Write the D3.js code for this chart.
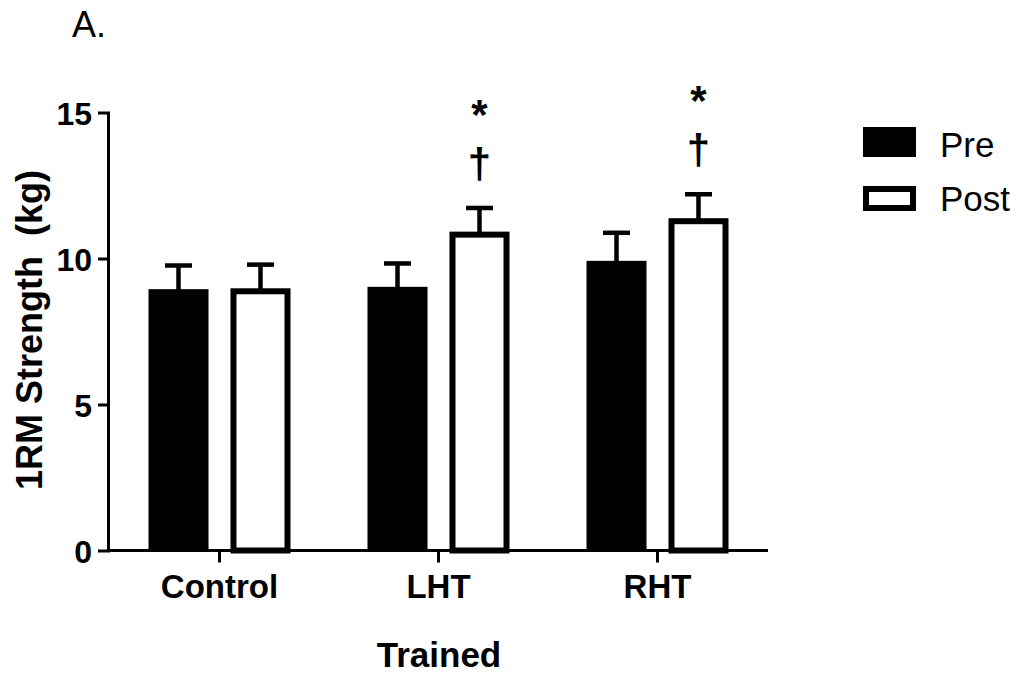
<!DOCTYPE html>
<html>
<head>
<meta charset="utf-8">
<script src="https://cdn.jsdelivr.net/npm/d3@7/dist/d3.min.js"></script>
<style>
  body { margin: 0; background: #fff; }
  text { font-family: "Liberation Sans", Arial, sans-serif; fill: #000; }
</style>
</head>
<body>
<div id="chart"></div>
<script>
(function() {

  // data
  var groups = ['Control', 'LHT', 'RHT']
  var phases = ['Pre', 'Post']
  var preMeans = [8.95, 9.03, 9.92]
  var preErrors = [0.81, 0.80, 0.96]
  var postMeans = [8.98, 10.92, 11.38]
  var postErrors = [0.81, 0.81, 0.82]
  var postMarks = ['', '*', '*']
  var postDaggers = ['', '\u2020', '\u2020']
  var yTicks = [0, 5, 10, 15]

  var width = 1019, height = 678

  var svg = d3.select("#chart")
    .append("svg")
    .attr("width", width)
    .attr("height", height)

  var yScale = d3.scaleLinear()
    .domain([0, 15])
    .range([550.5, 112.5])

  var xScale = d3.scaleBand()
    .domain(groups)
    .range([110, 767])

  var phaseScale = d3.scaleBand()
    .domain(phases)
    .range([-71, 71])
    .paddingInner(0.268)

  var bars = []
  groups.forEach(function(g, i) {
    bars.push({ group: g, phase: 'Pre', mean: preMeans[i], err: preErrors[i], mark: '', dagger: '' })
    bars.push({ group: g, phase: 'Post', mean: postMeans[i], err: postErrors[i], mark: postMarks[i], dagger: postDaggers[i] })
  })

  function barLeft(d) {
    return xScale(d.group) + xScale.bandwidth() / 2 + phaseScale(d.phase)
  }
  function barCenter(d) {
    return barLeft(d) + phaseScale.bandwidth() / 2
  }

  // error bars (behind bars)
  var err = svg.selectAll(".err")
    .data(bars)
    .enter().append("g")
    .attr("class", "err")

  err.append("line")
    .attr("x1", barCenter)
    .attr("x2", barCenter)
    .attr("y1", function(d) { return yScale(d.mean) + 2 })
    .attr("y2", function(d) { return yScale(d.mean + d.err) })
    .attr("stroke", "#000")
    .attr("stroke-width", 4.5)

  err.append("line")
    .attr("x1", function(d) { return barCenter(d) - 13.5 })
    .attr("x2", function(d) { return barCenter(d) + 13.5 })
    .attr("y1", function(d) { return yScale(d.mean + d.err) })
    .attr("y2", function(d) { return yScale(d.mean + d.err) })
    .attr("stroke", "#000")
    .attr("stroke-width", 4.5)

  var sw = 6
  svg.selectAll(".bar")
    .data(bars)
    .enter().append("rect")
    .attr("class", "bar")
    .attr("x", function(d) { return d.phase == 'Pre' ? barLeft(d) : barLeft(d) + sw / 2 })
    .attr("width", function(d) { return d.phase == 'Pre' ? phaseScale.bandwidth() : phaseScale.bandwidth() - sw })
    .attr("y", function(d) { return d.phase == 'Pre' ? yScale(d.mean) : yScale(d.mean) + sw / 2 })
    .attr("height", function(d) { return yScale(0) - yScale(d.mean) - (d.phase == 'Pre' ? 0 : sw / 2) })
    .attr("fill", function(d) { return d.phase == 'Pre' ? '#000' : '#fff' })
    .attr("stroke", function(d) { return d.phase == 'Pre' ? 'none' : '#000' })
    .attr("stroke-width", sw)

  // significance marks
  var marked = bars.filter(function(d) { return d.dagger })
  svg.selectAll(".dagger")
    .data(marked)
    .enter().append("text")
    .attr("class", "dagger")
    .attr("x", barCenter)
    .attr("y", function(d) { return yScale(d.mean + d.err) - 30 })
    .attr("text-anchor", "middle")
    .attr("font-size", "42px")
    .attr("font-weight", "bold")
    .text(function(d) { return d.dagger })

  svg.selectAll(".star")
    .data(marked)
    .enter().append("text")
    .attr("class", "star")
    .attr("x", barCenter)
    .attr("y", function(d) { return yScale(d.mean + d.err) - 79 })
    .attr("text-anchor", "middle")
    .attr("font-size", "42px")
    .attr("font-weight", "bold")
    .text(function(d) { return d.mark })

  // axes
  var yAxis = svg.append("g")
    .attr("transform", "translate(110,0)")
    .call(d3.axisLeft(yScale).tickValues(yTicks).tickSize(12).tickPadding(6))
  yAxis.select(".domain")
    .attr("d", "M-1.5," + yScale(15) + "V" + yScale(0))
  yAxis.selectAll("line, path")
    .attr("stroke", "#000")
    .attr("stroke-width", 3)
  yAxis.selectAll("text")
    .attr("font-size", "32px")
    .attr("font-weight", "bold")
    .attr("font-family", '"Liberation Sans", Arial, sans-serif')
    .attr("dy", "0.36em")

  var xAxis = svg.append("g")
    .attr("transform", "translate(0," + yScale(0) + ")")
    .call(d3.axisBottom(xScale).tickSize(12).tickPadding(12))
  xAxis.select(".domain")
    .attr("d", "M108.5,0H768")
  xAxis.selectAll("line, path")
    .attr("stroke", "#000")
    .attr("stroke-width", 3)
  xAxis.selectAll("text")
    .attr("font-size", "33px")
    .attr("font-weight", "bold")
    .attr("font-family", '"Liberation Sans", Arial, sans-serif')

  svg.append("text")
    .attr("transform", "translate(42,330) rotate(-90)")
    .attr("text-anchor", "middle")
    .attr("font-size", "36px")
    .attr("font-weight", "bold")
    .attr("xml:space", "preserve")
    .style("white-space", "pre")
    .text("1RM Strength  (kg)")

  svg.append("text")
    .attr("x", 439)
    .attr("y", 667)
    .attr("text-anchor", "middle")
    .attr("font-size", "35px")
    .attr("font-weight", "bold")
    .text("Trained")

  svg.append("text")
    .attr("x", 72)
    .attr("y", 37)
    .attr("font-size", "36px")
    .text("A.")

  // legend
  var legend = svg.selectAll(".legend")
    .data(phases)
    .enter().append("g")
    .attr("class", "legend")

  legend.append("rect")
    .attr("x", function(d) { return d == 'Pre' ? 863 : 866 })
    .attr("y", function(d) { return d == 'Pre' ? 127 : 189 })
    .attr("width", function(d) { return d == 'Pre' ? 53 : 47 })
    .attr("height", function(d) { return d == 'Pre' ? 30 : 19 })
    .attr("fill", function(d) { return d == 'Pre' ? '#000' : '#fff' })
    .attr("stroke", function(d) { return d == 'Pre' ? 'none' : '#000' })
    .attr("stroke-width", 6)

  legend.append("text")
    .attr("x", 940)
    .attr("y", function(d, i) { return 157 + i * 54 })
    .attr("font-size", "35px")
    .text(function(d) { return d })

})();
</script>
</body>
</html>
